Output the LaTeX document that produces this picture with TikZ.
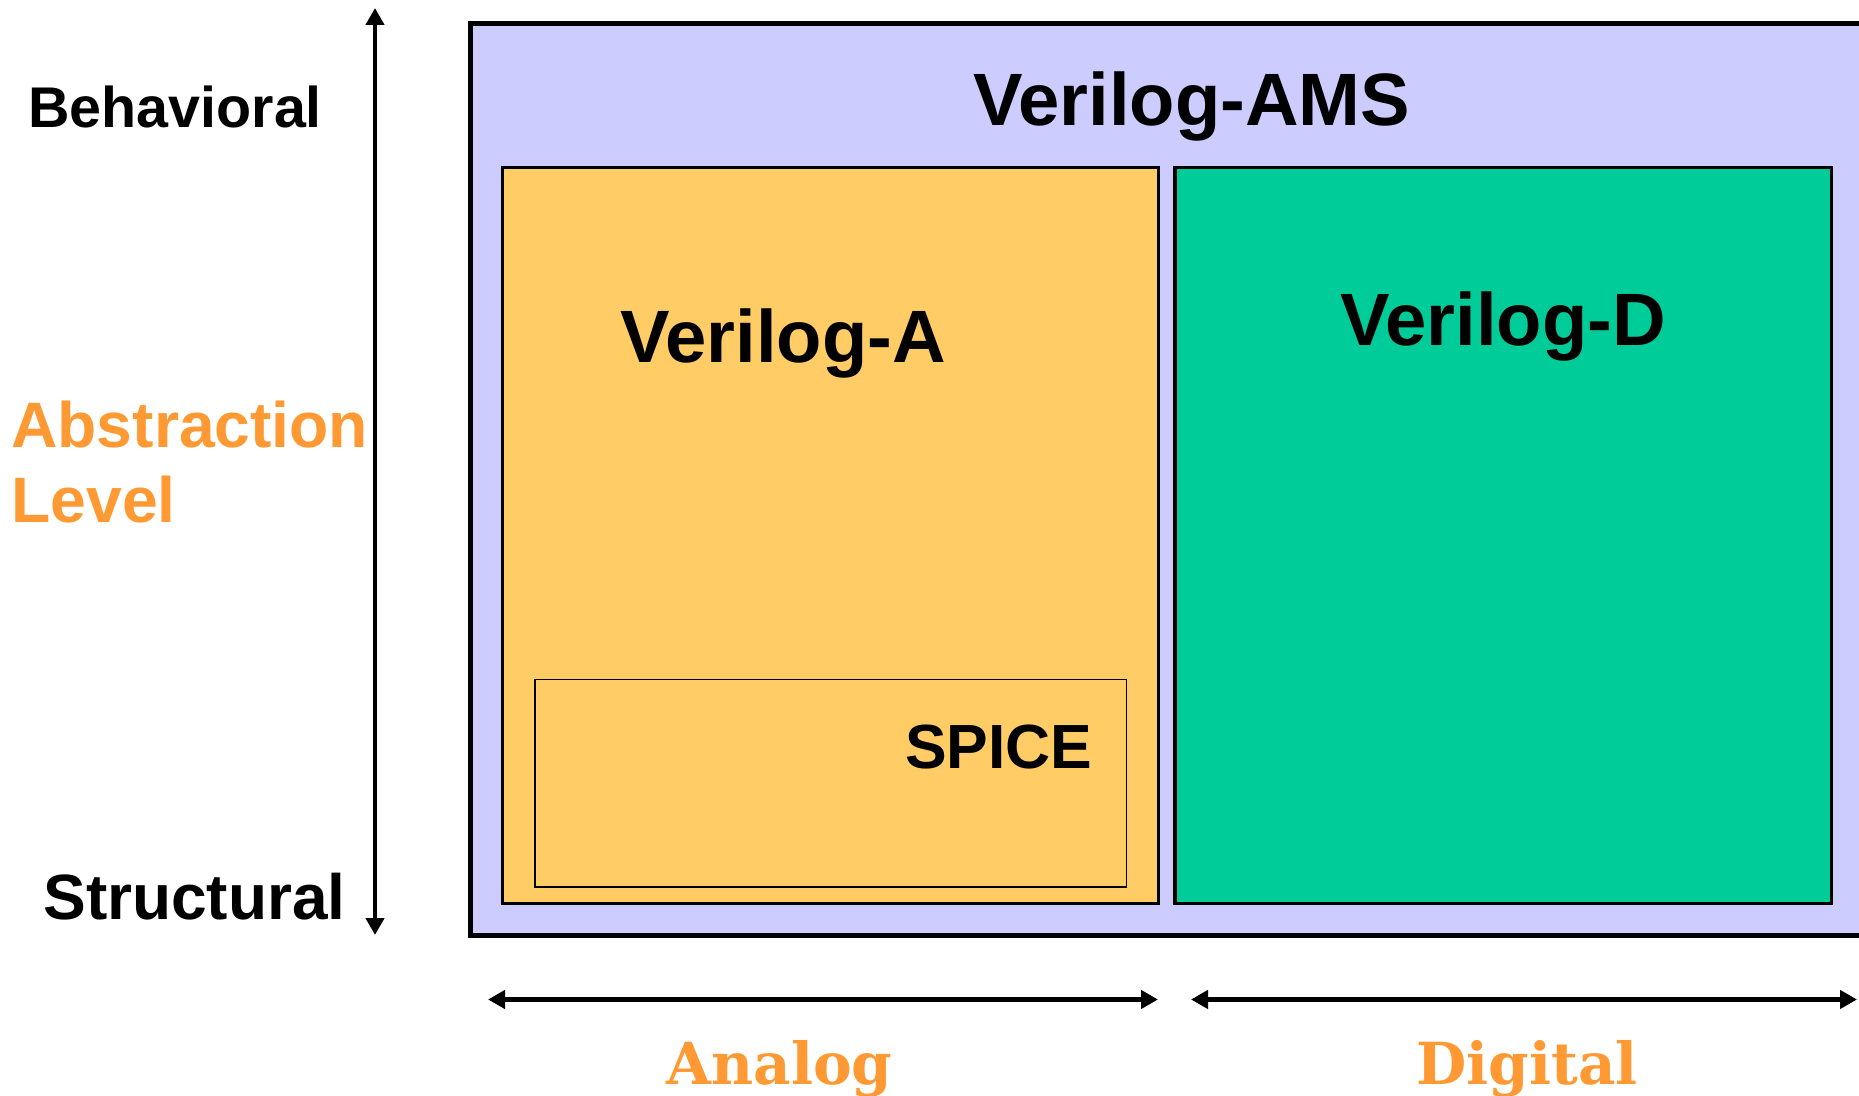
\documentclass[tikz,border=0pt]{standalone}
\usepackage{fontspec}
\setmainfont{Liberation Sans}
\newfontfamily\serifface{DejaVu Serif}
\usetikzlibrary{arrows.meta,positioning}
\definecolor{amsfill}{HTML}{CCCCFF}
\definecolor{analogfill}{HTML}{FFCC66}
\definecolor{digitalfill}{HTML}{00CC99}
\definecolor{axisorange}{HTML}{FF9933}

\begin{document}
\begin{tikzpicture}[x=0.5pt,y=-0.5pt,
    box/.style={draw=black, rectangle, anchor=north west, inner sep=0pt, outer sep=0pt},
    langname/.style={font=\bfseries\fontsize{37.1}{44}\selectfont, anchor=base, inner sep=0pt},
    scalelabel/.style={font=\bfseries\fontsize{#1}{#1}\selectfont, anchor=base west, inner sep=0pt},
    sidelabel/.style={text=axisorange, font=\serifface\bfseries\fontsize{29}{34}\selectfont, anchor=base, inner sep=0pt},
    axisarrow/.style={line width=2.2pt, {Triangle[width=9pt,length=8.5pt]}-{Triangle[width=9pt,length=8.5pt]}}]
  \clip (0,0) rectangle (1859,1096);

  % language boxes
  \node[box, fill=amsfill, line width=2.6pt, minimum width=720pt, minimum height=455.8pt] (ams) at (470.7,23.7) {};
  \node[box, fill=analogfill, line width=1.6pt, minimum width=327.8pt, minimum height=368.1pt] (va) at (502.7,167.2) {};
  \node[box, fill=digitalfill, line width=1.6pt, minimum width=328.4pt, minimum height=368.1pt] (vd) at (1174.9,167.2) {};
  \node[box, line width=0.8pt, minimum width=295.8pt, minimum height=103.8pt] (spice) at (534.7,679.3) {};

  \node[langname] (amsname) at (1191.5,125.7) {Verilog-AMS};
  \node[langname] (vaname) at (783,362.8) {Verilog-A};
  \node[langname] (vdname) at (1503,346) {Verilog-D};
  \node[langname, font=\bfseries\fontsize{31.2}{36}\selectfont, anchor=base east] (spicename) at (1093,768) {SPICE};

  % abstraction axis
  \node[scalelabel=28.7] (behav) at (28,128) {Behavioral};
  \node[scalelabel=32] (struct) at (43,919) {Structural};
  \node[scalelabel=32.1, text=axisorange] (abstr) at (11,448) {Abstraction};
  \node[scalelabel=32.1, text=axisorange] (lvl) at (11,523) {Level};
  \coordinate (vtop) at (375,8);
  \coordinate (vbot) at (375,935);
  \draw[axisarrow] (vtop) -- (vbot);

  % analog / digital axis
  \coordinate (aleft) at (488,999.5);
  \coordinate (aright) at (1158,999.5);
  \coordinate (dleft) at (1191,999.5);
  \coordinate (dright) at (1857,999.5);
  \draw[axisarrow, line width=2.6pt] (aleft) -- (aright);
  \draw[axisarrow, line width=2.6pt] (dleft) -- (dright);
  \node[sidelabel] (analog) at (779.5,1084) {Analog};
  \node[sidelabel] (digital) at (1527,1084) {Digital};
\end{tikzpicture}
\end{document}
